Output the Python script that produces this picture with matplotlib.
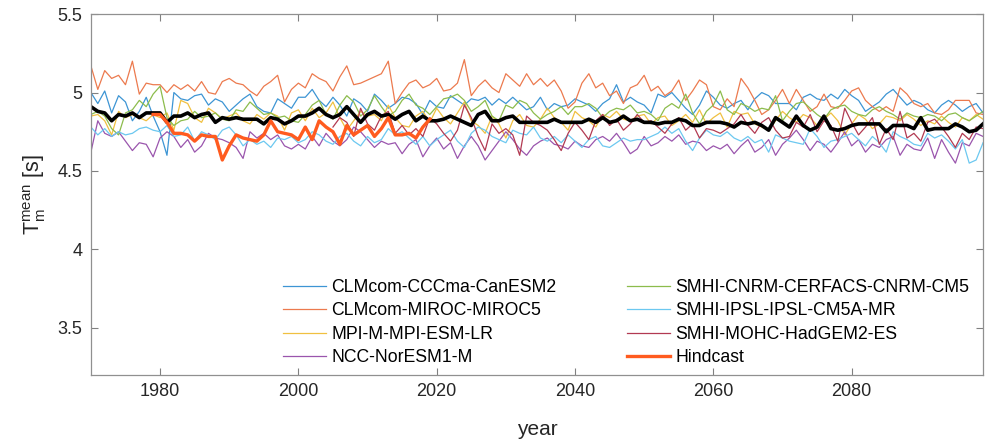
import numpy as np
import matplotlib
matplotlib.use('Agg')
import matplotlib.pyplot as plt

plt.rcParams['font.family'] = ['Liberation Sans', 'DejaVu Sans']
plt.rcParams['mathtext.fontset'] = 'custom'
plt.rcParams['mathtext.rm'] = 'Liberation Sans'
plt.rcParams['mathtext.it'] = 'Liberation Sans'

# Data
years = np.arange(1970, 2100)
years_hadgem = np.arange(2005, 2100)
years_hindcast = np.arange(1979, 2020)

canesm2 = [5.00, 4.93, 5.01, 4.87, 4.98, 4.94, 4.82, 4.88, 4.97, 4.85,
           4.75, 4.60, 5.00, 4.96, 4.95, 4.98, 4.99, 4.92, 4.96, 4.94,
           4.88, 4.92, 4.96, 4.99, 4.91, 4.88, 4.87, 4.96, 4.93, 4.90,
           4.97, 4.97, 5.02, 4.95, 4.91, 4.97, 4.92, 4.85, 4.96, 4.93,
           4.88, 4.99, 4.95, 4.90, 4.93, 4.97, 4.96, 4.93, 4.86, 4.95,
           4.91, 4.90, 4.98, 4.95, 4.92, 4.96, 4.95, 4.97, 4.92, 4.96,
           4.93, 4.97, 4.93, 4.89, 4.91, 4.97, 4.89, 4.93, 4.91, 4.92,
           4.96, 4.94, 4.92, 4.88, 4.93, 4.96, 5.05, 4.94, 4.97, 4.94,
           4.92, 4.87, 4.99, 4.97, 5.00, 4.95, 4.90, 4.86, 4.92, 5.01,
           4.97, 4.92, 4.90, 4.93, 4.95, 4.89, 4.96, 5.00, 4.98, 4.93,
           4.93, 4.93, 4.89, 4.97, 4.99, 4.96, 4.95, 4.99, 4.96, 5.02,
           4.98, 4.95, 4.88, 4.91, 4.94, 4.99, 5.02, 4.97, 4.92, 4.95,
           4.93, 4.89, 4.87, 4.92, 4.95, 4.92, 4.88, 4.91, 4.93, 4.87]

miroc5 = [5.17, 5.02, 5.14, 5.09, 5.11, 5.05, 5.20, 4.99, 5.06, 5.05,
          5.05, 5.00, 5.05, 5.02, 5.05, 5.01, 5.07, 5.00, 4.99, 5.07,
          5.09, 5.06, 5.05, 5.01, 4.98, 5.04, 5.07, 5.11, 4.94, 5.02,
          5.06, 5.03, 5.12, 5.09, 5.07, 5.01, 5.10, 5.17, 5.05, 5.06,
          5.08, 5.10, 5.12, 5.20, 4.93, 5.00, 5.06, 5.08, 5.03, 5.05,
          5.09, 5.01, 5.02, 5.06, 5.21, 4.98, 5.04, 5.08, 5.03, 5.00,
          5.12, 5.08, 5.04, 5.12, 5.05, 5.09, 5.04, 5.08, 5.01, 4.90,
          4.94, 5.06, 5.12, 5.03, 5.06, 4.98, 5.01, 4.93, 5.03, 5.05,
          5.11, 5.01, 5.04, 4.98, 5.01, 5.08, 4.95, 5.01, 5.08, 5.05,
          4.91, 4.89, 4.96, 4.91, 5.09, 5.03, 4.95, 4.86, 4.89, 4.95,
          5.02, 4.93, 5.02, 4.95, 4.88, 4.91, 4.99, 4.91, 4.90, 4.95,
          5.01, 5.03, 4.95, 4.91, 4.88, 4.91, 4.88, 5.03, 4.99, 4.93,
          4.91, 4.93, 4.87, 4.86, 4.89, 4.95, 4.95, 4.95, 4.87, 4.86]

mpi = [4.85, 4.86, 4.82, 4.73, 4.88, 4.84, 4.86, 4.84, 4.82, 4.86,
       4.84, 4.87, 4.76, 4.95, 4.93, 4.84, 4.81, 4.90, 4.87, 4.83,
       4.85, 4.87, 4.82, 4.80, 4.86, 4.83, 4.87, 4.85, 4.76, 4.87,
       4.89, 4.82, 4.90, 4.84, 4.87, 4.94, 4.84, 4.76, 4.82, 4.88,
       4.85, 4.86, 4.82, 4.92, 4.84, 4.79, 4.78, 4.85, 4.88, 4.81,
       4.90, 4.84, 4.80, 4.87, 4.94, 4.82, 4.79, 4.74, 4.85, 4.80,
       4.71, 4.82, 4.86, 4.79, 4.78, 4.83, 4.90, 4.84, 4.81, 4.76,
       4.88, 4.84, 4.82, 4.78, 4.86, 4.84, 4.88, 4.83, 4.82, 4.85,
       4.86, 4.80, 4.84, 4.85, 4.79, 4.82, 4.86, 4.81, 4.89, 4.80,
       4.84, 4.87, 4.78, 4.88, 4.86, 4.87, 4.80, 4.78, 4.76, 4.82,
       4.88, 4.84, 4.81, 4.86, 4.84, 4.79, 4.83, 4.87, 4.82, 4.73,
       4.80, 4.86, 4.83, 4.77, 4.80, 4.85, 4.84, 4.82, 4.86, 4.83,
       4.79, 4.82, 4.80, 4.85, 4.81, 4.78, 4.84, 4.82, 4.86, 4.83]

noresm = [4.62, 4.82, 4.74, 4.72, 4.75, 4.69, 4.63, 4.68, 4.67, 4.59,
          4.71, 4.75, 4.72, 4.65, 4.70, 4.62, 4.66, 4.74, 4.71, 4.70,
          4.68, 4.65, 4.58, 4.75, 4.71, 4.74, 4.70, 4.73, 4.66, 4.64,
          4.67, 4.64, 4.72, 4.66, 4.74, 4.69, 4.66, 4.70, 4.78, 4.75,
          4.70, 4.65, 4.69, 4.67, 4.68, 4.61, 4.67, 4.70, 4.59, 4.66,
          4.71, 4.64, 4.68, 4.58, 4.66, 4.72, 4.66, 4.57, 4.63, 4.69,
          4.75, 4.70, 4.64, 4.60, 4.66, 4.69, 4.71, 4.67, 4.66, 4.64,
          4.69, 4.66, 4.65, 4.70, 4.72, 4.69, 4.74, 4.68, 4.61, 4.64,
          4.72, 4.66, 4.68, 4.72, 4.69, 4.73, 4.67, 4.69, 4.68, 4.63,
          4.66, 4.64, 4.67, 4.61, 4.66, 4.70, 4.62, 4.65, 4.70, 4.60,
          4.67, 4.71, 4.76, 4.70, 4.63, 4.69, 4.67, 4.62, 4.68, 4.75,
          4.66, 4.70, 4.62, 4.67, 4.65, 4.70, 4.72, 4.60, 4.67, 4.64,
          4.63, 4.71, 4.58, 4.70, 4.62, 4.55, 4.68, 4.66, 4.74, 4.72]

cnrm = [4.86, 4.88, 4.85, 4.77, 4.73, 4.87, 4.89, 4.95, 4.91, 4.99,
        5.04, 4.84, 4.79, 4.82, 4.83, 4.88, 4.84, 4.85, 4.87, 4.83,
        4.82, 4.89, 4.88, 4.94, 4.90, 4.86, 4.87, 4.84, 4.85, 4.82,
        4.81, 4.86, 4.92, 4.95, 4.86, 4.83, 4.92, 4.98, 4.94, 4.85,
        4.89, 4.98, 4.91, 4.85, 4.88, 4.95, 4.99, 4.92, 4.90, 4.86,
        4.91, 4.96, 4.97, 4.99, 4.95, 4.88, 4.91, 4.95, 4.85, 4.82,
        4.92, 4.90, 4.95, 4.93, 4.87, 4.83, 4.86, 4.88, 4.91, 4.86,
        4.91, 4.91, 4.93, 4.90, 4.84, 4.88, 4.90, 4.89, 4.92, 4.87,
        4.88, 4.86, 4.82, 4.90, 4.93, 4.90, 4.99, 4.87, 4.80, 4.88,
        4.92, 5.01, 4.89, 4.86, 4.93, 4.91, 4.88, 4.90, 4.89, 4.98,
        4.82, 4.88, 4.93, 4.94, 4.90, 4.86, 4.83, 4.89, 4.91, 4.92,
        4.88, 4.86, 4.85, 4.89, 4.91, 4.88, 4.86, 4.83, 4.87, 4.85,
        4.84, 4.86, 4.85, 4.82, 4.86, 4.87, 4.84, 4.82, 4.85, 4.88]

ipsl = [4.78, 4.73, 4.77, 4.72, 4.75, 4.73, 4.74, 4.77, 4.78, 4.76,
        4.75, 4.79, 4.72, 4.73, 4.78, 4.69, 4.75, 4.73, 4.70, 4.76,
        4.78, 4.73, 4.66, 4.70, 4.67, 4.69, 4.65, 4.71, 4.70, 4.72,
        4.68, 4.70, 4.75, 4.73, 4.69, 4.67, 4.72, 4.74, 4.69, 4.66,
        4.72, 4.68, 4.70, 4.77, 4.73, 4.75, 4.71, 4.67, 4.72, 4.66,
        4.70, 4.73, 4.76, 4.69, 4.65, 4.74, 4.78, 4.76, 4.72, 4.70,
        4.68, 4.76, 4.74, 4.73, 4.78, 4.71, 4.69, 4.72, 4.68, 4.73,
        4.69, 4.65, 4.70, 4.72, 4.66, 4.65, 4.68, 4.71, 4.69, 4.70,
        4.70, 4.72, 4.74, 4.78, 4.74, 4.77, 4.69, 4.63, 4.71, 4.76,
        4.73, 4.72, 4.75, 4.71, 4.69, 4.72, 4.68, 4.70, 4.62, 4.73,
        4.71, 4.69, 4.68, 4.67, 4.77, 4.72, 4.65, 4.69, 4.70, 4.72,
        4.74, 4.70, 4.66, 4.72, 4.68, 4.62, 4.75, 4.72, 4.70, 4.67,
        4.66, 4.74, 4.71, 4.73, 4.69, 4.64, 4.70, 4.55, 4.57, 4.68]

hadgem2 = [4.78, 4.84, 4.81, 4.72, 4.90, 4.80, 4.76, 4.85, 4.88, 4.74, 4.79,
           4.73, 4.77, 4.72, 4.84, 4.80, 4.74, 4.69, 4.76, 4.92, 4.84,
           4.72, 4.63, 4.80, 4.74, 4.77, 4.73, 4.60, 4.85, 4.81, 4.79,
           4.76, 4.70, 4.63, 4.74, 4.81, 4.76, 4.70, 4.82, 4.86, 4.79,
           4.83, 4.76, 4.80, 4.86, 4.81, 4.82, 4.78, 4.74, 4.80, 4.84,
           4.76, 4.80, 4.71, 4.77, 4.76, 4.74, 4.77, 4.80, 4.86, 4.79,
           4.74, 4.81, 4.84, 4.76, 4.71, 4.72, 4.81, 4.78, 4.86, 4.75,
           4.82, 4.79, 4.69, 4.90, 4.81, 4.73, 4.78, 4.84, 4.67, 4.77,
           4.70, 4.88, 4.71, 4.74, 4.69, 4.81, 4.83, 4.78, 4.72, 4.65,
           4.74, 4.70, 4.78, 4.77]

ens_mean = [4.91, 4.88, 4.87, 4.82, 4.86, 4.85, 4.87, 4.84, 4.87, 4.87,
            4.87, 4.81, 4.85, 4.85, 4.87, 4.84, 4.86, 4.87, 4.81, 4.84,
            4.83, 4.84, 4.83, 4.83, 4.83, 4.80, 4.84, 4.83, 4.80, 4.82,
            4.85, 4.85, 4.87, 4.90, 4.86, 4.84, 4.86, 4.91, 4.86, 4.81,
            4.86, 4.88, 4.85, 4.86, 4.83, 4.86, 4.88, 4.82, 4.85, 4.82,
            4.82, 4.83, 4.85, 4.83, 4.81, 4.79, 4.86, 4.88, 4.82, 4.82,
            4.84, 4.85, 4.81, 4.81, 4.81, 4.81, 4.81, 4.83, 4.81, 4.81,
            4.81, 4.81, 4.83, 4.81, 4.84, 4.81, 4.82, 4.85, 4.82, 4.83,
            4.81, 4.81, 4.80, 4.81, 4.81, 4.83, 4.82, 4.79, 4.79, 4.81,
            4.81, 4.81, 4.80, 4.78, 4.81, 4.80, 4.81, 4.79, 4.76, 4.84,
            4.81, 4.78, 4.85, 4.79, 4.76, 4.78, 4.85, 4.77, 4.76, 4.77,
            4.79, 4.80, 4.80, 4.80, 4.80, 4.75, 4.79, 4.79, 4.79, 4.77,
            4.84, 4.76, 4.77, 4.77, 4.77, 4.80, 4.78, 4.75, 4.76, 4.80]

hindcast = [4.86, 4.86, 4.81, 4.74, 4.74, 4.73, 4.69, 4.73, 4.72, 4.72,
            4.57, 4.66, 4.73, 4.71, 4.70, 4.69, 4.73, 4.82, 4.75, 4.74,
            4.73, 4.70, 4.78, 4.70, 4.82, 4.78, 4.75, 4.67, 4.79, 4.73,
            4.76, 4.79, 4.72, 4.77, 4.84, 4.73, 4.73, 4.74, 4.71, 4.78,
            4.83]

fig = plt.figure(figsize=(9.88, 4.42), dpi=100)
ax = fig.add_axes([0.092, 0.152, 0.903, 0.816])

ax.plot(years, canesm2, color='#3d95d4', lw=0.9, label='CLMcom-CCCma-CanESM2')
ax.plot(years, miroc5, color='#ec7a4e', lw=0.9, label='CLMcom-MIROC-MIROC5')
ax.plot(years, mpi, color='#f0c040', lw=0.9, label='MPI-M-MPI-ESM-LR')
ax.plot(years, noresm, color='#9a55ad', lw=0.9, label='NCC-NorESM1-M')
ax.plot(years, cnrm, color='#8cbc4c', lw=0.9, label='SMHI-CNRM-CERFACS-CNRM-CM5')
ax.plot(years, ipsl, color='#6cc8f0', lw=0.9, label='SMHI-IPSL-IPSL-CM5A-MR')
ax.plot(years_hadgem, hadgem2, color='#b23a52', lw=0.9, label='SMHI-MOHC-HadGEM2-ES')
ax.plot(years, ens_mean, color='black', lw=2.6)
ax.plot(years_hindcast, hindcast, color='#ff5b1f', lw=2.4, label='Hindcast')

ax.set_xlim(1970, 2099)
ax.set_ylim(3.2, 5.5)
ax.set_xticks([1980, 2000, 2020, 2040, 2060, 2080])
ax.set_yticks([3.5, 4, 4.5, 5, 5.5])
ax.set_yticklabels(['3.5', '4', '4.5', '5', '5.5'])
ax.tick_params(direction='in', length=5, width=0.8, color='#808080',
               labelsize=13, labelcolor='#262626', top=True, right=True, pad=6)
for s in ax.spines.values():
    s.set_color('#909090')
    s.set_linewidth(0.9)

ax.set_xlabel('year', fontsize=15, color='#262626', labelpad=14)
ax.set_ylabel(r'T$_\mathrm{m}^\mathrm{mean}$ [s]', fontsize=15.5, color='#262626', labelpad=7)

ax.legend(ncol=2, frameon=False, fontsize=12.7, loc='upper left',
          bbox_to_anchor=(0.205, 0.29), handlelength=2.45, handletextpad=0.3,
          columnspacing=4.0, labelspacing=0.36, borderpad=0)

fig.savefig('out.png', dpi=100)
